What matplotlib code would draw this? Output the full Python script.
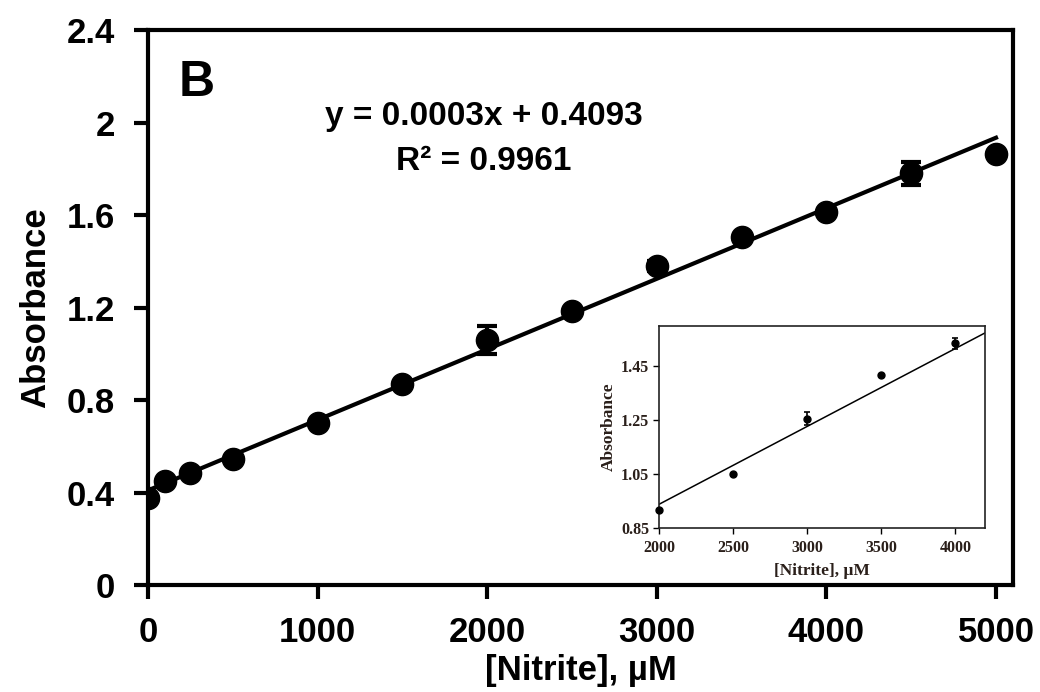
import matplotlib
matplotlib.use("Agg")
import matplotlib.pyplot as plt
import numpy as np

# main calibration data
nitrite = [0, 100, 250, 500, 1000, 1500, 2000, 2500, 3000, 3500, 4000, 4500, 5000]
absorb = [0.377, 0.45, 0.485, 0.545, 0.70, 0.87, 1.06, 1.186, 1.38, 1.506, 1.615, 1.78, 1.866]
absorb_err = [0.01, 0.01, 0.01, 0.01, 0.01, 0.01, 0.06, 0.01, 0.02, 0.01, 0.01, 0.05, 0.01]
fit_slope = 0.000305
fit_intercept = 0.4093

# inset data
in_nitrite = [2000, 2500, 3000, 3500, 4000]
in_absorb = [0.917, 1.05, 1.255, 1.417, 1.535]
in_err = [0.0, 0.0, 0.024, 0.0, 0.02]
in_slope = 0.000289
in_intercept = 0.360

plt.rcParams['font.family'] = ['Liberation Sans', 'DejaVu Sans']
plt.rcParams['font.weight'] = 'bold'
serif = ['Liberation Serif', 'DejaVu Serif']

fig = plt.figure(figsize=(10.4, 6.92), dpi=100)
ax = fig.add_axes([0.1423, 0.1546, 0.974 - 0.1423, 0.9566 - 0.1546])

xs = np.array([0, 5000])
ax.plot(xs, fit_slope * xs + fit_intercept, color='black', lw=3, zorder=2)
ax.errorbar(nitrite, absorb, yerr=absorb_err, fmt='o', color='black', ms=16,
            elinewidth=3, capsize=7, capthick=3, zorder=3)

ax.set_xlim(0, 5100)
ax.set_ylim(0, 2.4)
ax.set_xticks([0, 1000, 2000, 3000, 4000, 5000])
ax.set_yticks([0, 0.4, 0.8, 1.2, 1.6, 2.0, 2.4])
ax.set_yticklabels(['0', '0.4', '0.8', '1.2', '1.6', '2', '2.4'])
for s in ax.spines.values():
    s.set_linewidth(3)
ax.tick_params(axis='both', direction='out', length=10, width=3, labelsize=25)
ax.tick_params(axis='x', pad=12)
ax.tick_params(axis='y', pad=14)
ax.set_xlabel('[Nitrite], µM', fontsize=25, fontweight='bold', labelpad=4)
ax.set_ylabel('Absorbance', fontsize=25, fontweight='bold', labelpad=10)

ax.text(178, 2.115, 'B', fontsize=36, fontweight='bold')
ax.text(0.388, 0.804, 'y = 0.0003x + 0.4093\nR² = 0.9961', transform=ax.transAxes,
        ha='center', va='center', fontsize=24, fontweight='bold', linespacing=1.6)

# inset
tc = '#2a1f1a'
ins = fig.add_axes([0.6337, 0.237, 0.947 - 0.6337, 0.529 - 0.237])
ix = np.array([2000, 4200])
ins.plot(ix, in_slope * ix + in_intercept, color='black', lw=1.1, zorder=2)
ins.errorbar(in_nitrite, in_absorb, yerr=in_err, fmt='o', color='black', ms=5,
             elinewidth=1.2, capsize=2.5, capthick=1.2, zorder=3, clip_on=False)
ins.set_xlim(2000, 4200)
ins.set_ylim(0.85, 1.6)
ins.set_xticks([2000, 2500, 3000, 3500, 4000])
ins.set_yticks([0.85, 1.05, 1.25, 1.45])
ins.set_yticklabels(['0.85', '1.05', '1.25', '1.45'])
for s in ins.spines.values():
    s.set_linewidth(1.2)
    s.set_color('#222222')
ins.tick_params(axis='both', direction='out', length=4, width=1, labelsize=11.5,
                labelcolor=tc)
ins.tick_params(axis='x', pad=5)
ins.tick_params(axis='y', pad=3)
for lab in ins.get_xticklabels() + ins.get_yticklabels():
    lab.set_family(serif)
    lab.set_fontweight('bold')
ins.set_xlabel('[Nitrite], µM', fontsize=12.5, color=tc, family=serif,
               fontweight='bold', labelpad=5)
ins.set_ylabel('Absorbance', fontsize=12.5, color=tc, family=serif,
               fontweight='bold', labelpad=3)

fig.savefig('out.png', dpi=100)
